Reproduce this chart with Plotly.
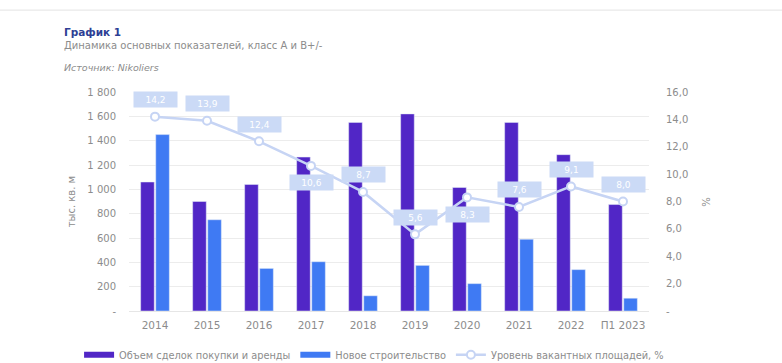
import plotly.graph_objects as go

categories = ["2014", "2015", "2016", "2017", "2018", "2019", "2020", "2021", "2022", "П1 2023"]
deals = [1060, 900, 1040, 1265, 1550, 1620, 1015, 1550, 1285, 875]
new_construction = [1450, 750, 350, 405, 125, 375, 225, 590, 340, 105]
vacancy = [14.2, 13.9, 12.4, 10.6, 8.7, 5.6, 8.3, 7.6, 9.1, 8.0]
label_below = [False, False, False, True, False, False, True, False, False, False]

left_ticks = [0, 200, 400, 600, 800, 1000, 1200, 1400, 1600, 1800]
left_ticktext = ["-", "200", "400", "600", "800", "1 000", "1 200", "1 400", "1 600", "1 800"]
right_ticks = [0, 2, 4, 6, 8, 10, 12, 14, 16]
right_ticktext = ["-", "2,0", "4,0", "6,0", "8,0", "10,0", "12,0", "14,0", "16,0"]

FONT = "DejaVu Sans"
GRAY = "#8c8c8c"
PURPLE = "#5126c6"
BLUE = "#3f7af3"
LINE = "#c6d4f4"
LABEL_BG = "#cbdaf6"

NAME_DEALS = "Объем сделок покупки и аренды"
NAME_NEW = "Новое строительство"
NAME_VAC = "Уровень вакантных площадей, %"

fig = go.Figure()
fig.add_trace(go.Bar(x=categories, y=deals, name=NAME_DEALS, showlegend=False,
                     marker_color=PURPLE, yaxis="y"))
fig.add_trace(go.Bar(x=categories, y=new_construction, name=NAME_NEW, showlegend=False,
                     marker_color=BLUE, yaxis="y"))

# legend keys drawn as wide bands for the two bar series
fig.add_trace(go.Scatter(x=[None], y=[None], name=NAME_DEALS, mode="lines",
                         line=dict(color=PURPLE, width=6), hoverinfo="skip"))
fig.add_trace(go.Scatter(x=[None], y=[None], name=NAME_NEW, mode="lines",
                         line=dict(color=BLUE, width=6), hoverinfo="skip"))

fig.add_trace(go.Scatter(x=categories, y=vacancy, name=NAME_VAC,
                         yaxis="y2", mode="lines+markers",
                         line=dict(color=LINE, width=2.5),
                         marker=dict(size=8, color="white", line=dict(color=LINE, width=2))))

# value labels on the vacancy line (category axis: x given as category index)
for i, (v, below) in enumerate(zip(vacancy, label_below)):
    fig.add_annotation(x=i, y=v, xref="x", yref="y2",
                       text=f"{v:.1f}".replace(".", ","),
                       showarrow=False, yshift=-17 if below else 17,
                       bgcolor=LABEL_BG, width=41, height=13,
                       font=dict(family=FONT, size=9, color="white"))

# headings
fig.add_annotation(x=-0.129, y=1.274, xref="paper", yref="paper", xanchor="left", yanchor="middle",
                   text="<b>График 1</b>", showarrow=False,
                   font=dict(family=FONT, size=10.5, color="#2e3f95"))
fig.add_annotation(x=-0.129, y=1.213, xref="paper", yref="paper", xanchor="left", yanchor="middle",
                   text="Динамика основных показателей, класс А и В+/-", showarrow=False,
                   font=dict(family=FONT, size=10, color=GRAY))
fig.add_annotation(x=-0.129, y=1.112, xref="paper", yref="paper", xanchor="left", yanchor="middle",
                   text="<i>Источник: Nikoliers</i>", showarrow=False,
                   font=dict(family=FONT, size=9.5, color=GRAY))

# axis titles
fig.add_annotation(x=-0.11, y=0.5, xref="paper", yref="paper", xanchor="center", yanchor="middle",
                   text="тыс. кв. м", textangle=-90, showarrow=False,
                   font=dict(family=FONT, size=10, color=GRAY))
fig.add_annotation(x=1.11, y=0.5, xref="paper", yref="paper", xanchor="center", yanchor="middle",
                   text="%", textangle=-90, showarrow=False,
                   font=dict(family=FONT, size=10, color=GRAY))

# thin rule at the top of the page
fig.add_shape(type="line", xref="paper", yref="paper", x0=-0.25, x1=1.26, y0=1.374, y1=1.374,
              line=dict(color="#e3e3e3", width=1))

fig.update_layout(
    width=782, height=363,
    margin=dict(l=129, r=133, t=92, b=52, autoexpand=False),
    paper_bgcolor="white", plot_bgcolor="white",
    barmode="group", bargap=0.42, bargroupgap=0.1,
    font=dict(family=FONT, size=10, color=GRAY),
    showlegend=True,
    legend=dict(orientation="h", xref="paper", yref="paper",
                x=-0.096, y=-0.2, xanchor="left", yanchor="middle",
                font=dict(family=FONT, size=9.8, color=GRAY),
                itemwidth=30, tracegroupgap=0, bgcolor="rgba(0,0,0,0)"),
    xaxis=dict(type="category", range=[-0.5, 9.5], showgrid=False, showline=True,
               linecolor="#e6e6e6", ticks="", ticklabelstandoff=4,
               tickfont=dict(family=FONT, size=10.5, color=GRAY)),
    yaxis=dict(range=[0, 1800], tickvals=left_ticks, ticktext=left_ticktext,
               showgrid=True, gridcolor="#ececec", zeroline=False, ticks="",
               ticklabelstandoff=12, tickfont=dict(family=FONT, size=10, color=GRAY)),
    yaxis2=dict(range=[0, 16], tickvals=right_ticks, ticktext=right_ticktext,
                overlaying="y", side="right", showgrid=False, zeroline=False, ticks="",
                ticklabelstandoff=16, tickfont=dict(family=FONT, size=10, color=GRAY)),
)

fig.write_html("out.html")
